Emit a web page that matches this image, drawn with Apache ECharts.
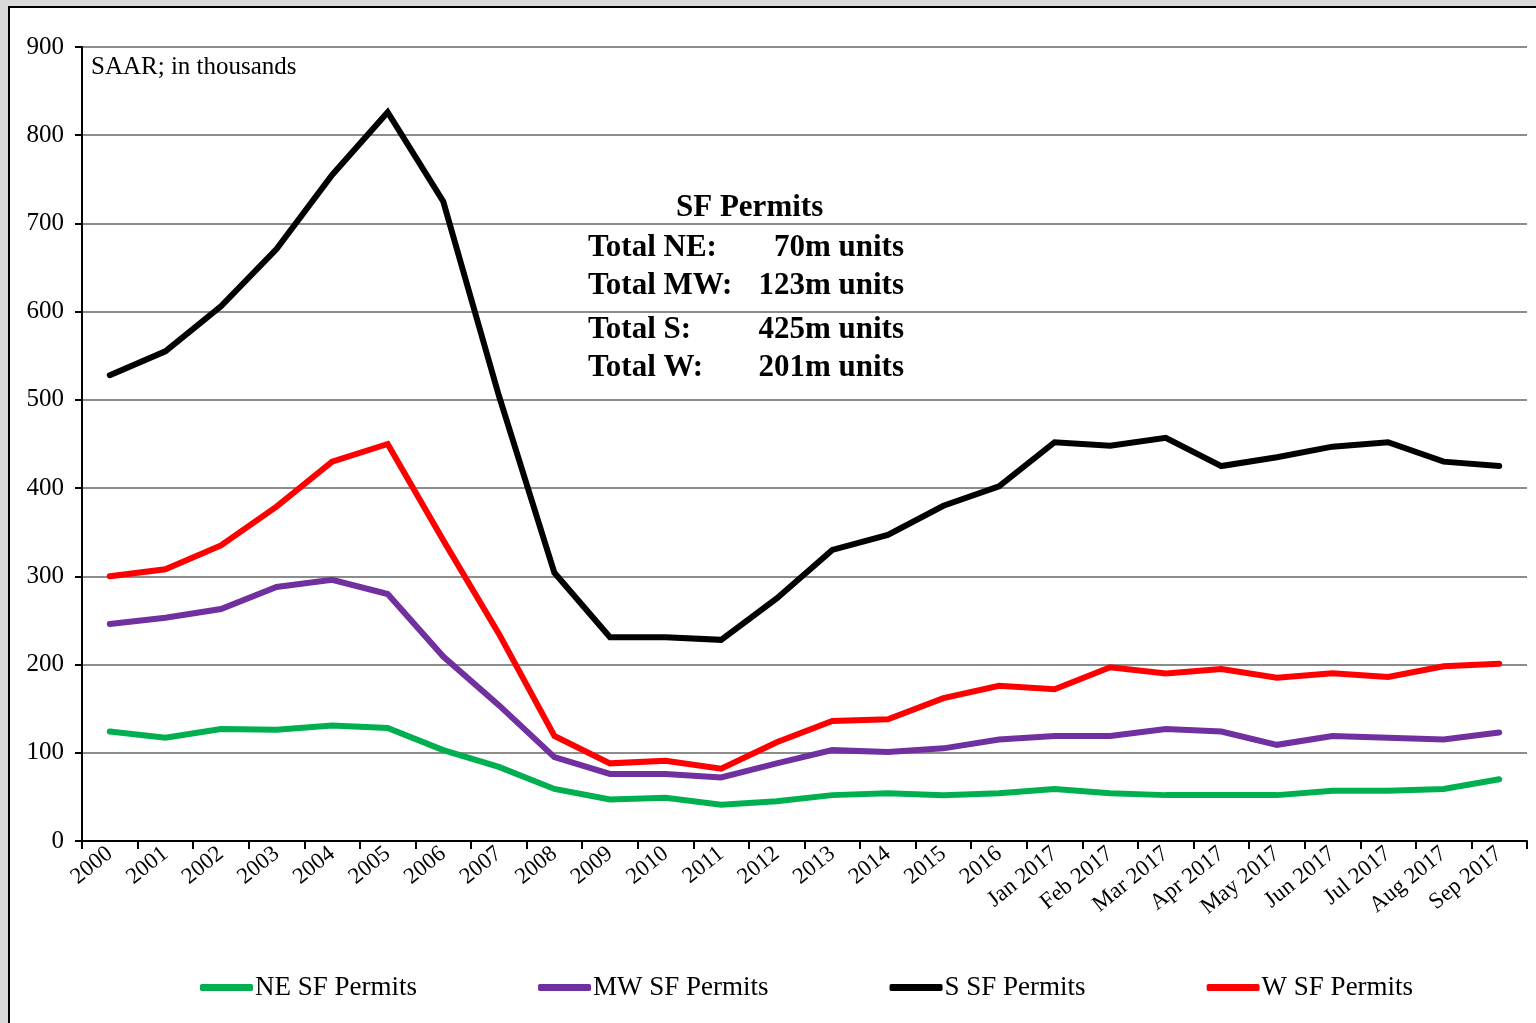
<!DOCTYPE html>
<html>
<head>
<meta charset="utf-8">
<script src="https://cdn.jsdelivr.net/npm/echarts@6/dist/echarts.min.js"></script>
<style>
  html, body { margin: 0; padding: 0; background: #d9d9d9; }
  #chart { width: 1536px; height: 1023px; }
</style>
</head>
<body>
<div id="chart"></div>
<script>
const categories = ['2000', '2001', '2002', '2003', '2004', '2005', '2006', '2007', '2008',
    '2009', '2010', '2011', '2012', '2013', '2014', '2015', '2016',
    'Jan 2017', 'Feb 2017', 'Mar 2017', 'Apr 2017', 'May 2017', 'Jun 2017',
    'Jul 2017', 'Aug 2017', 'Sep 2017'];

const neValues = [124, 117, 127, 126, 131, 128, 103, 84, 59, 47, 49, 41, 45, 52, 54, 52, 54,
    59, 54, 52, 52, 52, 57, 57, 59, 70];
const mwValues = [246, 253, 263, 288, 296, 280, 209, 154, 95, 76, 76, 72, 88, 103, 101, 105, 115,
    119, 119, 127, 124, 109, 119, 117, 115, 123];
const sValues = [528, 555, 606, 671, 755, 826, 725, 505, 304, 231, 231, 228, 275, 330, 347, 380, 402,
    452, 448, 457, 425, 435, 447, 452, 430, 425];
const wValues = [300, 308, 335, 379, 430, 450, 341, 235, 119, 88, 91, 82, 112, 136, 138, 162, 176,
    172, 197, 190, 195, 185, 190, 186, 198, 201];

const totalLabels = ['Total NE:', 'Total MW:', 'Total S:', 'Total W:'];
const totalValues = ['70m units', '123m units', '425m units', '201m units'];

const serif = '"Liberation Serif", "Times New Roman", serif';

const chart = echarts.init(document.getElementById('chart'));

const seriesDefs = [
    { name: 'NE SF Permits', data: neValues, color: '#00b050' },
    { name: 'MW SF Permits', data: mwValues, color: '#7030a0' },
    { name: 'S SF Permits', data: sValues, color: '#000000' },
    { name: 'W SF Permits', data: wValues, color: '#ff0000' }
];

// rows of the totals box, baseline-ish positions
const totalsY = [249, 287, 331, 369];
const totalsGraphic = [];
totalLabels.forEach((t, i) => {
    totalsGraphic.push({
        type: 'text', left: 588, top: totalsY[i] - 17,
        style: { text: t, font: 'bold 31px ' + serif, fill: '#000' }
    });
    totalsGraphic.push({
        type: 'text', right: 1536 - 904, top: totalsY[i] - 17,
        style: { text: totalValues[i], font: 'bold 31px ' + serif, fill: '#000', textAlign: 'right' }
    });
});

const option = {
    backgroundColor: '#d9d9d9',
    animation: false,
    graphic: [
        {
            type: 'rect', z: -10,
            shape: { x: 9, y: 7, width: 1540, height: 1030 },
            style: { fill: '#ffffff', stroke: '#000000', lineWidth: 2 }
        },
        {
            type: 'text', left: 91, top: 55,
            style: { text: 'SAAR; in thousands', font: '25px ' + serif, fill: '#000' }
        },
        {
            type: 'text', left: 676, top: 192,
            style: { text: 'SF Permits', font: 'bold 31px ' + serif, fill: '#000' }
        },
        ...totalsGraphic
    ],
    grid: { left: 82, right: 9, top: 47, bottom: 182, containLabel: false },
    legend: {
        bottom: 17,
        left: 195,
        itemWidth: 53,
        itemHeight: 7,
        itemGap: 121,
        icon: 'roundRect',
        textStyle: { fontFamily: serif, fontSize: 27, color: '#000', padding: [0, 0, 0, -3] },
        data: seriesDefs.map(s => s.name)
    },
    xAxis: {
        type: 'category',
        data: categories,
        boundaryGap: true,
        axisLine: { lineStyle: { color: '#000', width: 2 } },
        axisTick: { show: true, length: 8, alignWithLabel: false, lineStyle: { color: '#000', width: 2 } },
        axisLabel: {
            rotate: 39,
            interval: 0,
            margin: 10,
            fontFamily: serif,
            fontSize: 23,
            color: '#000'
        }
    },
    yAxis: {
        type: 'value',
        min: 0,
        max: 900,
        interval: 100,
        axisLine: { show: true, lineStyle: { color: '#000', width: 2 } },
        axisTick: { show: true, inside: false, length: 7, lineStyle: { color: '#000', width: 2 } },
        axisLabel: { fontFamily: serif, fontSize: 25, color: '#000', margin: 18 },
        splitLine: { lineStyle: { color: '#8c8c8c', width: 2 } }
    },
    series: seriesDefs.map(s => ({
        name: s.name,
        type: 'line',
        data: s.data,
        symbol: 'none',
        color: s.color,
        lineStyle: { color: s.color, width: 6, cap: 'round', join: 'miter' },
        itemStyle: { color: s.color }
    }))
};

chart.setOption(option);
</script>
</body>
</html>
